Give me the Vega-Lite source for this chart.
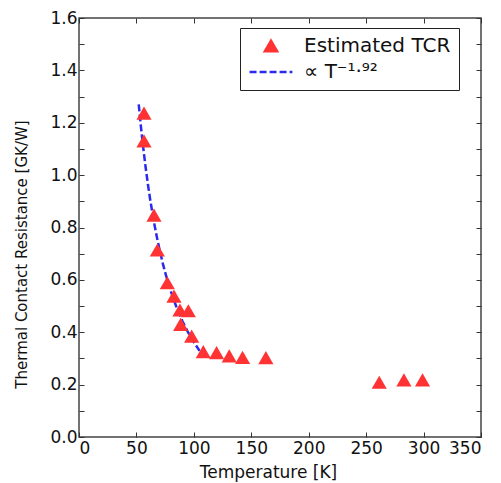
{
  "$schema": "https://vega.github.io/schema/vega-lite/v6.json",
  "width": 402,
  "height": 419,
  "autosize": {"type": "none"},
  "padding": {"left": 79, "top": 18, "right": 20, "bottom": 46},
  "background": "white",
  "config": {
    "view": {"stroke": "#444", "strokeWidth": 1.5},
    "axis": {
      "labelFont": "DejaVu Sans",
      "titleFont": "DejaVu Sans",
      "labelColor": "#111",
      "titleColor": "#111",
      "grid": false,
      "domain": false,
      "tickColor": "#333",
      "tickWidth": 1,
      "tickSize": -5
    }
  },
  "datasets": {
    "pts": [
      {"T": 56.6, "R": 1.237, "series": "Estimated TCR"},
      {"T": 56.6, "R": 1.131, "series": "Estimated TCR"},
      {"T": 65.3, "R": 0.847, "series": "Estimated TCR"},
      {"T": 68.2, "R": 0.714, "series": "Estimated TCR"},
      {"T": 76.9, "R": 0.589, "series": "Estimated TCR"},
      {"T": 82.7, "R": 0.538, "series": "Estimated TCR"},
      {"T": 87.9, "R": 0.485, "series": "Estimated TCR"},
      {"T": 95.2, "R": 0.482, "series": "Estimated TCR"},
      {"T": 88.5, "R": 0.430, "series": "Estimated TCR"},
      {"T": 98.1, "R": 0.385, "series": "Estimated TCR"},
      {"T": 108.2, "R": 0.326, "series": "Estimated TCR"},
      {"T": 119.8, "R": 0.322, "series": "Estimated TCR"},
      {"T": 130.8, "R": 0.310, "series": "Estimated TCR"},
      {"T": 142.4, "R": 0.304, "series": "Estimated TCR"},
      {"T": 162.7, "R": 0.303, "series": "Estimated TCR"},
      {"T": 261.4, "R": 0.209, "series": "Estimated TCR"},
      {"T": 282.9, "R": 0.218, "series": "Estimated TCR"},
      {"T": 299.1, "R": 0.218, "series": "Estimated TCR"}
    ],
    "fit": [
      {"T": 52, "R": 1.270, "series": "∝ T⁻¹·⁹²"},
      {"T": 54, "R": 1.181, "series": "∝ T⁻¹·⁹²"},
      {"T": 56, "R": 1.102, "series": "∝ T⁻¹·⁹²"},
      {"T": 58, "R": 1.030, "series": "∝ T⁻¹·⁹²"},
      {"T": 60, "R": 0.965, "series": "∝ T⁻¹·⁹²"},
      {"T": 62, "R": 0.906, "series": "∝ T⁻¹·⁹²"},
      {"T": 64, "R": 0.853, "series": "∝ T⁻¹·⁹²"},
      {"T": 66, "R": 0.804, "series": "∝ T⁻¹·⁹²"},
      {"T": 68, "R": 0.759, "series": "∝ T⁻¹·⁹²"},
      {"T": 70, "R": 0.718, "series": "∝ T⁻¹·⁹²"},
      {"T": 73, "R": 0.662, "series": "∝ T⁻¹·⁹²"},
      {"T": 76, "R": 0.613, "series": "∝ T⁻¹·⁹²"},
      {"T": 79, "R": 0.569, "series": "∝ T⁻¹·⁹²"},
      {"T": 82, "R": 0.530, "series": "∝ T⁻¹·⁹²"},
      {"T": 86, "R": 0.483, "series": "∝ T⁻¹·⁹²"},
      {"T": 90, "R": 0.443, "series": "∝ T⁻¹·⁹²"},
      {"T": 95, "R": 0.399, "series": "∝ T⁻¹·⁹²"},
      {"T": 100, "R": 0.362, "series": "∝ T⁻¹·⁹²"},
      {"T": 105, "R": 0.329, "series": "∝ T⁻¹·⁹²"}
    ]
  },
  "layer": [
    {
      "data": {"name": "fit"},
      "mark": {"type": "line", "strokeWidth": 2.5},
      "encoding": {
        "x": {
          "field": "T", "type": "quantitative",
          "scale": {"domain": [0, 350], "nice": false, "zero": false},
          "axis": {
            "orient": "top", "labels": false, "title": null,
            "values": [0, 50, 100, 150, 200, 250, 300, 350]
          }
        },
        "y": {
          "field": "R", "type": "quantitative",
          "scale": {"domain": [0, 1.6], "nice": false},
          "axis": {
            "orient": "right", "labels": false, "title": null,
            "values": [0, 0.1, 0.2, 0.3, 0.4, 0.5, 0.6, 0.7, 0.8, 0.9, 1.0, 1.1, 1.2, 1.3, 1.4, 1.5, 1.6]
          }
        },
        "color": {
          "field": "series", "type": "nominal",
          "scale": {"domain": ["Estimated TCR", "∝ T⁻¹·⁹²"], "range": ["#ff3333", "#2a2aee"]},
          "legend": {
            "title": null,
            "orient": "none",
            "legendX": 161,
            "legendY": 10,
            "strokeColor": "#222",
            "fillColor": "white",
            "padding": 8,
            "labelFont": "DejaVu Sans",
            "labelFontSize": 20,
            "labelColor": "#111",
            "labelOffset": 36,
            "rowPadding": 5,
            "symbolSize": 150,
            "symbolStrokeWidth": 2.5,
            "encode": {
              "symbols": {
                "update": {
                  "stroke": {"scale": "color", "field": "value"},
                  "x": {"value": 23}
                }
              }
            }
          }
        },
        "strokeDash": {
          "field": "series", "type": "nominal",
          "scale": {"domain": ["Estimated TCR", "∝ T⁻¹·⁹²"], "range": [[1, 0], [7, 3]]},
          "legend": {"title": null}
        }
      }
    },
    {
      "data": {"name": "pts"},
      "mark": {"type": "point", "filled": true, "size": 230, "opacity": 1},
      "encoding": {
        "x": {
          "field": "T", "type": "quantitative",
          "axis": {
            "orient": "bottom",
            "title": "Temperature [K]",
            "titleFontSize": 17,
            "titleFontWeight": "normal",
            "titleX": 189,
            "titleY": 40,
            "titleBaseline": "alphabetic",
            "labelFontSize": 17,
            "labelPadding": 8,
            "values": [0, 50, 100, 150, 200, 250, 300, 350]
          }
        },
        "y": {
          "field": "R", "type": "quantitative",
          "axis": {
            "orient": "left",
            "title": "Thermal Contact Resistance [GK/W]",
            "titleFontSize": 15,
            "titleFontWeight": "normal",
            "titleX": -58,
            "titleY": 236,
            "titleAlign": "center",
            "titleBaseline": "middle",
            "labelFontSize": 17,
            "labelPadding": 7,
            "values": [0, 0.1, 0.2, 0.3, 0.4, 0.5, 0.6, 0.7, 0.8, 0.9, 1.0, 1.1, 1.2, 1.3, 1.4, 1.5, 1.6],
            "labelExpr": "round(datum.value*10) % 2 === 0 ? format(datum.value, '.1f') : ''"
          }
        },
        "color": {"field": "series", "type": "nominal"},
        "shape": {
          "field": "series", "type": "nominal",
          "scale": {"domain": ["Estimated TCR", "∝ T⁻¹·⁹²"], "range": ["triangle-up", "M-3.5,0L3.5,0"]},
          "legend": {"title": null}
        }
      }
    }
  ],
  "resolve": {"axis": {"x": "independent", "y": "independent"}}
}
